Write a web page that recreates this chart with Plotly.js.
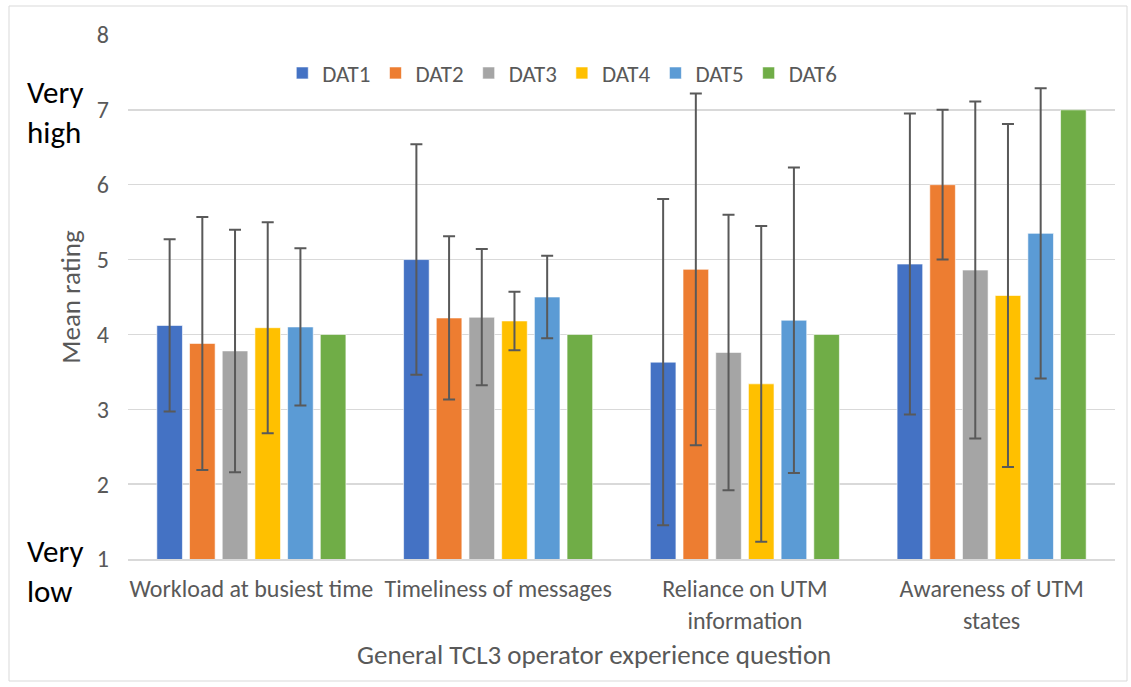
<!DOCTYPE html>
<html>
<head>
<meta charset="utf-8">
<script src="https://cdn.plot.ly/plotly-3.0.1.min.js"></script>
<style>html,body{margin:0;padding:0;background:#fff;}#chart{width:1131px;height:687px;}</style>
</head>
<body>
<div id="chart"></div>
<script>
const categories = ["Workload at busiest time", "Timeliness of messages", "Reliance on UTM<br>information", "Awareness of UTM<br>states"];
const seriesNames = ["DAT1", "DAT2", "DAT3", "DAT4", "DAT5", "DAT6"];
const dat1 = [4.12, 5.00, 3.63, 4.94];
const dat2 = [3.88, 4.22, 4.87, 6.00];
const dat3 = [3.78, 4.23, 3.76, 4.86];
const dat4 = [4.09, 4.18, 3.34, 4.52];
const dat5 = [4.10, 4.50, 4.19, 5.35];
const dat6 = [4.00, 4.00, 4.00, 7.00];
const err1 = [1.15, 1.54, 2.18, 2.01];
const err2 = [1.69, 1.09, 2.35, 1.00];
const err3 = [1.62, 0.91, 1.84, 2.25];
const err4 = [1.41, 0.39, 2.11, 2.29];
const err5 = [1.05, 0.55, 2.04, 1.94];
const err6 = null;
const yTickVals = [1, 2, 3, 4, 5, 6, 7, 8];
const xTitle = "General TCL3 operator experience question";
const yTitle = "Mean rating";

const values = [dat1, dat2, dat3, dat4, dat5, dat6];
const errors = [err1, err2, err3, err4, err5, err6];
const colors = ["#4472C4", "#ED7D31", "#A5A5A5", "#FFC000", "#5B9BD5", "#70AD47"];
const FONT = "Carlito, 'Open Sans', 'Liberation Sans', sans-serif";

const traces = seriesNames.map((name, i) => {
  const t = {
    type: "bar",
    name: name,
    x: categories,
    y: values[i],
    marker: {color: colors[i], line: {color: "rgba(255,255,255,0.6)", width: 1}},
    hoverinfo: "x+y+name"
  };
  if (errors[i]) {
    t.error_y = {type: "data", array: errors[i], visible: true, color: "#595959", thickness: 2, width: 6};
  }
  return t;
});

const W = 1131, H = 687, L = 128, R = 16, T = 35, B = 128;
const pw = W - L - R, ph = H - T - B;
const px = v => (v - L) / pw;
const py = v => 1 - (v - T) / ph;

const layout = {
  width: W, height: H,
  margin: {l: L, r: R, t: T, b: B, pad: 0},
  paper_bgcolor: "#ffffff",
  plot_bgcolor: "#ffffff",
  font: {family: FONT, color: "#595959", size: 24},
  barmode: "group",
  bargap: 0.205,
  bargroupgap: 0.217,
  showlegend: true,
  legend: {
    orientation: "h", x: 0.44, xanchor: "center", y: py(73), yanchor: "middle",
    font: {family: FONT, size: 23, color: "#595959"}, bgcolor: "rgba(0,0,0,0)",
    traceorder: "normal", itemwidth: 30
  },
  xaxis: {
    type: "category",
    showgrid: false,
    showline: true, linecolor: "#d9d9d9", linewidth: 1.5,
    ticks: "", tickfont: {family: FONT, size: 24, color: "#595959"},
    ticklabelstandoff: 8
  },
  yaxis: {
    range: [1, 8],
    tickvals: yTickVals,
    showgrid: true, gridcolor: "#d9d9d9", gridwidth: 1.5,
    zeroline: false, showline: false, ticks: "",
    tickfont: {family: FONT, size: 24, color: "#595959"},
    ticklabelstandoff: 18,
    title: {text: yTitle, font: {family: FONT, size: 27, color: "#595959"}, standoff: 8}
  },
  annotations: [
    {xref: "paper", yref: "paper", x: px(594), y: py(654), xanchor: "center", yanchor: "middle", text: xTitle, showarrow: false, font: {family: FONT, size: 27, color: "#595959"}},
    {xref: "paper", yref: "paper", x: px(25), y: py(112), xanchor: "left", yanchor: "middle", text: "Very<br>high", showarrow: false, align: "left", font: {family: FONT, size: 31, color: "#000000"}},
    {xref: "paper", yref: "paper", x: px(25), y: py(571), xanchor: "left", yanchor: "middle", text: "Very<br>low", showarrow: false, align: "left", font: {family: FONT, size: 31, color: "#000000"}}
  ],
  shapes: [
    {type: "rect", xref: "paper", yref: "paper", x0: px(9), x1: px(1127), y0: py(681), y1: py(6), line: {color: "#d9d9d9", width: 1}, fillcolor: "rgba(0,0,0,0)", layer: "below"}
  ]
};

Plotly.newPlot("chart", traces, layout, {displayModeBar: false, staticPlot: true});
</script>
</body>
</html>
